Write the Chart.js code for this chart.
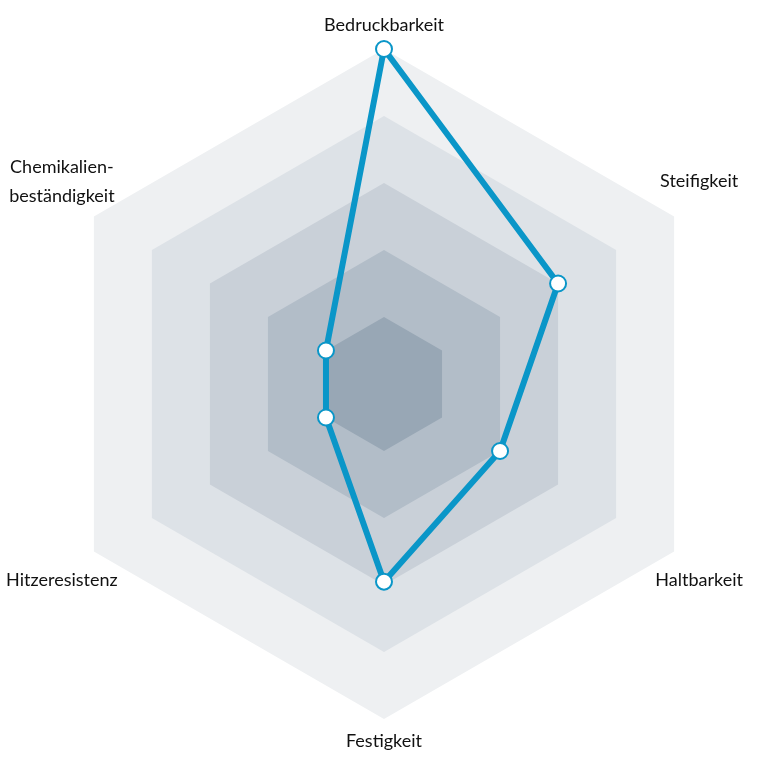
<!DOCTYPE html>
<html><head><meta charset="utf-8">
<script src="https://cdn.jsdelivr.net/npm/chart.js@4"></script>
<style>html,body{margin:0;padding:0;background:#fff}</style>
</head><body>
<canvas id="c" width="768" height="768"></canvas>
<script>
const categories = ['Bedruckbarkeit', 'Steifigkeit', 'Haltbarkeit', 'Festigkeit', 'Hitzeresistenz', ['Chemikalien-', 'beständigkeit']];
const values = [5, 3, 2, 2.95, 1, 1];
const bandLevels = [5, 4, 3, 2, 1];
const bandColors = ['#eef0f2', '#dde2e7', '#c9d0d8', '#b2bdc8', '#98a7b5'];
const lineColor = '#0a96c8';

const bandDatasets = bandLevels.map((lvl, k) => ({
  data: categories.map(() => lvl),
  backgroundColor: bandColors[k],
  borderWidth: 0,
  pointRadius: 0,
  fill: 'origin',
  order: 10 - k
}));

const labelPlugin = {
  id: 'axisLabels',
  afterDraw(chart) {
    const s = chart.scales.r;
    const ctx = chart.ctx;
    ctx.save();
    ctx.font = '18px Lato';
    ctx.fillStyle = '#111111';
    ctx.textAlign = 'center';
    ctx.textBaseline = 'middle';
    categories.forEach((lab, i) => {
      const p = s.getPointPosition(i, s.drawingArea);
      const dx = p.x - s.xCenter, dy = p.y - s.yCenter;
      let x = p.x, y = p.y;
      if (Math.abs(dx) < 1) { y += dy < 0 ? -24 : 22; }
      else { x += dx > 0 ? 25 : -32; y += dy < 0 ? -35 : 29; }
      const lines = Array.isArray(lab) ? lab : [lab];
      const lh = 29;
      lines.forEach((t, k) => ctx.fillText(t, x, y + (k - (lines.length - 1) / 2) * lh));
    });
    ctx.restore();
  }
};

new Chart(document.getElementById('c'), {
  type: 'radar',
  data: {
    labels: categories,
    datasets: [{
      data: values,
      borderColor: lineColor,
      borderWidth: 6,
      borderJoinStyle: 'round',
      pointRadius: 8,
      pointBorderWidth: 2,
      pointBorderColor: lineColor,
      pointBackgroundColor: '#ffffff',
      fill: false,
      order: 0
    }, ...bandDatasets]
  },
  options: {
    responsive: false,
    animation: false,
    events: [],
    layout: { padding: 49 },
    plugins: { legend: { display: false }, tooltip: { enabled: false } },
    scales: {
      r: {
        min: 0, max: 5,
        ticks: { display: false, stepSize: 1 },
        grid: { display: false },
        angleLines: { display: false },
        pointLabels: { display: false }
      }
    }
  },
  plugins: [labelPlugin]
});
</script>
</body></html>
